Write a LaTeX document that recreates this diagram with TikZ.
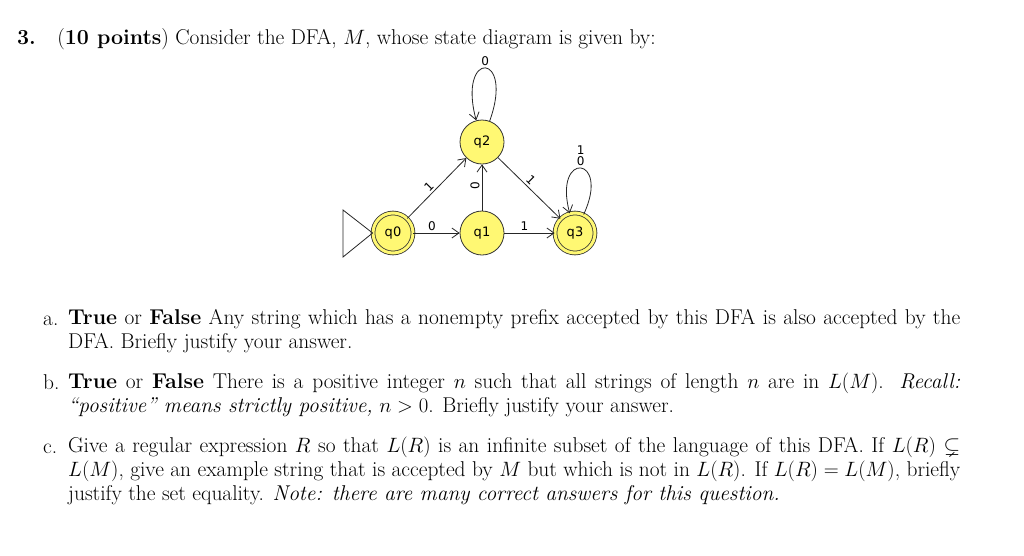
\documentclass[tikz,border=0pt]{standalone}
\usepackage{amsmath,amssymb}
\usepackage{fontspec}
\newfontfamily\dia{DejaVu Sans}
\usetikzlibrary{arrows.meta}
\newcommand\qfont{\fontsize{21.4}{24}\selectfont}
\tikzset{
 st/.style={circle,draw=black!80,line width=0.8pt,fill=yellow!55,minimum size=44pt,inner sep=0pt,font=\dia\fontsize{13}{14}\selectfont},
 acc/.style={st,double=yellow!55,double distance=3pt,minimum size=40pt},
 ed/.style={draw=black!85,line width=0.8pt,-{Straight Barb[length=7pt,width=10pt]}},
 lb/.style={font=\dia\fontsize{12}{12}\selectfont,inner sep=2pt},
 para/.style={anchor=north west,text width=892pt,align=justify,inner sep=0pt,font=\qfont},
}
\begin{document}
\begin{tikzpicture}[x=1pt,y=-1pt]
\useasboundingbox (0,0) rectangle (1024,555);
\node[anchor=base west,inner sep=0pt,font=\qfont] (t) at (17,44)
 {\textbf{3.}\quad(\textbf{10 points}) Consider the DFA, $M$, whose state diagram is given by:};
% diagram
\node[acc] (q0) at (393,233) {q0};
\node[st] (q1) at (482,233) {q1};
\node[st] (q2) at (482,142) {q2};
\node[acc] (q3) at (575,233) {q3};
\coordinate (i1) at (343,210);
\coordinate (i2) at (343,257);
\draw[black!85,line width=0.8pt] (i1) -- (q0.west) -- (i2) -- cycle;
\draw[ed] (q0) -- node[lb,above,pos=0.4] {0} (q1);
\draw[ed] (q1) -- node[lb,above,pos=0.4] {1} (q3);
\draw[ed] (q1) -- node[lb,rotate=90,anchor=south,pos=0.55] {0} (q2);
\draw[ed] (q0) -- node[lb,sloped,above,pos=0.45] {1} (q2);
\draw[ed] (q2) -- node[lb,sloped,above,pos=0.45] {1} (q3);
\draw[ed] (q2) to[out=70,in=105,looseness=14] node[lb,above] {0} (q2);
\draw[ed] (q3) to[out=65,in=105,looseness=12] node[lb,above,align=center] {1\\[-1pt]0} (q3);
% questions
\node[anchor=base west,inner sep=0pt,font=\qfont] (la) at (43,325) {a.};
\node[para] (pa) at (68,309) {\textbf{True} or \textbf{False} Any string which has a nonempty prefix accepted by this DFA is also accepted by the \linebreak DFA. Briefly justify your answer.};
\node[anchor=base west,inner sep=0pt,font=\qfont] (lb) at (43,389) {b.};
\node[para] (pb) at (68,373) {\textbf{True} or \textbf{False} There is a positive integer $n$ such that all strings of length $n$ are in $L(M)$. \textit{Recall:} \linebreak \textit{``positive'' means strictly positive,} $n>0$. Briefly justify your answer.};
\node[anchor=base west,inner sep=0pt,font=\qfont] (lc) at (43,453) {c.};
\node[para] (pc) at (68,437) {Give a regular expression $R$ so that $L(R)$ is an infinite subset of the language of this DFA. If $L(R)\subsetneq$ \linebreak $L(M)$, give an example string that is accepted by $M$ but which is not in $L(R)$. If $L(R)=L(M)$, briefly \linebreak justify the set equality. \textit{Note: there are many correct answers for this question.}};
\end{tikzpicture}
\end{document}
